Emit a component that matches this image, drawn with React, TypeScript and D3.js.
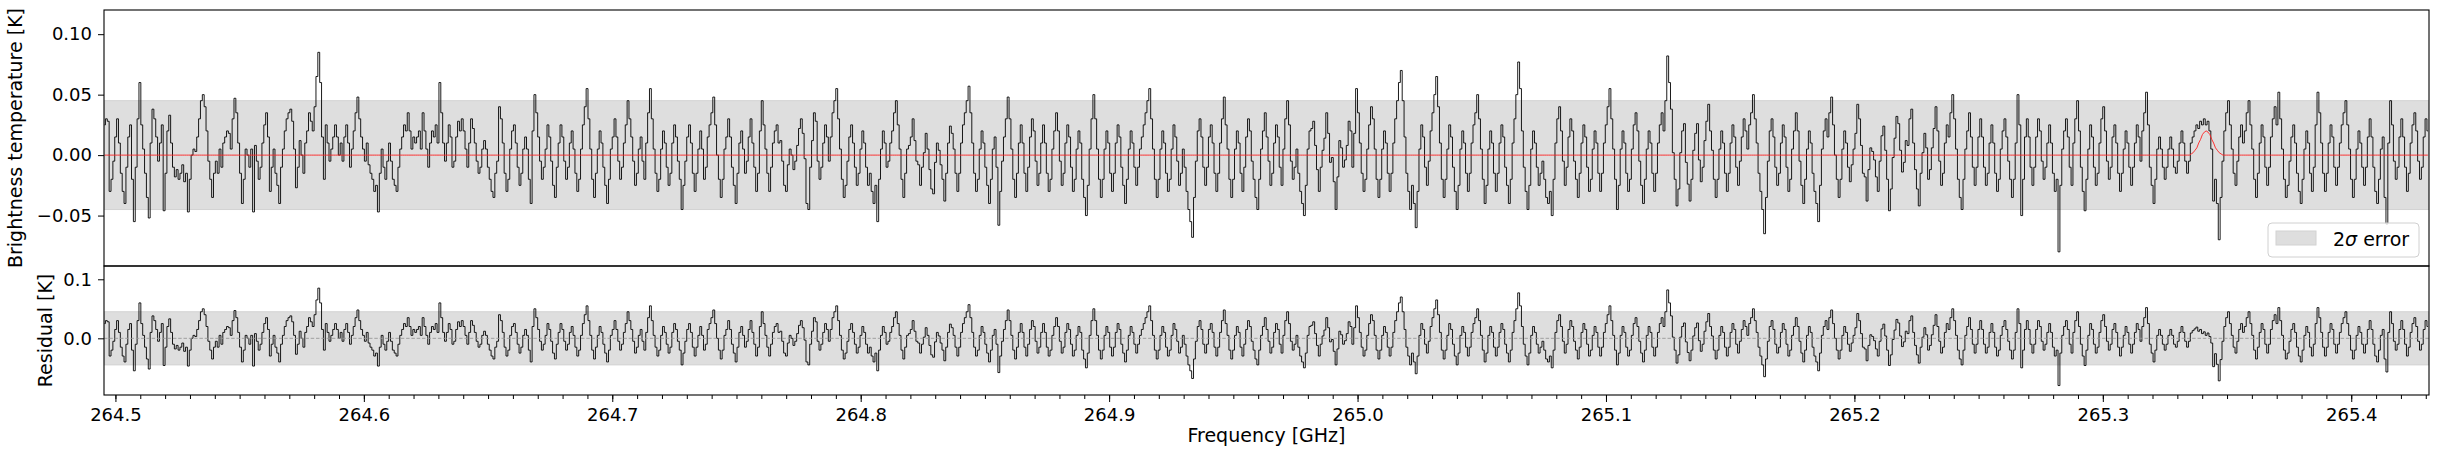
import * as d3 from 'd3';
import React, { FC, useEffect, useRef } from 'react';

// channel grid of the spectrum
const freqStart = 264.4956; // GHz
const channelWidth = 0.00075; // GHz

// brightness temperature per channel [mK]
const tb: number[] = [
	25, 30, 28, -30, -20, -5, 15, 30, 10, -15, -30, -40, -10, 15, 25, -20, -55, -10, 30, 60, 25, 5, -15, -35,
	-52, 10, 38, 30, 15, -5, 10, 25, -46, -15, 20, 33, 10, -10, -18, -12, -20, -15, -8, -22, -15, -47, -20, 0,
	5, 3, 15, 30, 45, 50, 40, 20, -5, -20, -35, -15, -5, -15, 5, -10, 10, 15, 20, 18, 5, 30, 47, 35,
	10, -15, -40, -20, 5, 0, -10, 5, -47, 8, -5, -20, -10, 10, 25, 35, 15, -30, -10, 5, -15, -25, -40, -10,
	5, 20, 30, 35, 38, 28, 5, -27, -10, 12, 0, -15, 10, 20, 35, 28, 20, 40, 65, 85, 60, 15, -20, 25,
	10, -5, 5, 15, 25, 15, 0, 10, -5, 15, 25, 10, -10, 5, 20, 35, 48, 30, 15, 5, -5, 10, -8, -15,
	-20, -30, -25, -47, -15, 5, -10, -20, -5, 10, -5, -20, -25, -30, -10, 5, 15, 25, 20, 35, 20, 5, 15, 10,
	15, 20, 5, 35, 20, 5, -10, 10, 20, 15, 25, 10, 60, 35, 10, -5, 10, 25, 15, -10, -5, 15, 28, 20,
	30, 20, 5, -10, 10, 30, 22, 10, -5, -15, -10, 5, 12, 5, -10, -20, -30, -35, -15, -5, 40, 30, 10, -15,
	-30, -20, 5, 20, 25, 10, -10, -25, -15, 5, 15, 5, -20, -40, 20, 50, 35, 15, -5, -20, -10, 5, 25, 15,
	-5, -25, -35, -10, 10, 25, 15, -5, -20, -10, 10, 20, 5, -15, -30, -20, 5, 25, 40, 55, 30, 5, -20, -35,
	-15, 5, 20, 10, -10, -25, -40, -20, 5, 15, 30, 15, -5, -20, -10, 10, 25, 45, 30, 15, -5, -25, -15, 5,
	15, -5, -20, 10, 35, 55, 30, 5, -15, -30, -20, 5, 20, 10, -10, -25, -15, 10, 25, 15, -5, -20, -45, -25,
	-5, 15, 25, 10, -15, -30, -15, 5, 20, 5, -20, -10, 15, 25, 35, 48, 25, 0, -20, -35, -20, 5, 15, 30,
	15, -10, -25, -40, -15, 10, 20, 5, -15, -5, 15, 30, 10, -10, -30, -15, 20, 45, 25, 5, -15, -30, -10, 10,
	20, 25, 10, 12, -5, -25, -30, -8, 5, 0, -12, -5, 8, 22, 30, 18, -3, -40, -45, -10, 12, 35, 28, -5,
	-20, -10, 10, 25, 15, -5, 15, 35, 45, 55, 30, 5, -20, -35, -25, -5, 15, 25, 10, -10, -25, -15, 5, 20,
	10, -10, -25, -15, -30, -40, -25, -55, -20, 5, 20, 10, -10, -5, 10, 20, 35, 45, 25, 5, -20, -35, -15, 5,
	8, 15, 30, 12, -5, -8, -25, -10, 2, 18, 5, -12, -28, -32, -6, 10, 4, -8, -20, -38, -15, 10, 24, 18,
	5, -15, -30, -15, 10, 25, 35, 45, 57, 35, 10, -15, -30, -20, 5, 20, 10, -10, -25, -40, -20, 5, 15, -10,
	-58, -30, -5, 15, 30, 48, 30, 5, -20, -35, -15, 10, 25, 10, -15, -30, -10, 15, 30, 20, -5, -25, -15, 10,
	25, 10, -15, -30, -20, 5, 20, 35, 20, -5, -25, -15, 10, 25, 15, -10, -30, -20, 5, 20, 10, -20, -35, -50,
	-25, 5, 30, 50, 30, 5, -20, -35, -20, 5, 20, 10, -15, -30, -15, 10, 25, 15, -10, -25, -40, -20, 5, 20,
	10, -10, -25, -10, 5, 15, 25, 35, 45, 55, 30, 5, -20, -35, -20, 5, 20, 10, -15, -30, -20, 5, 25, 15,
	-5, -25, -15, 5, -10, -30, -45, -55, -68, -35, -5, 20, 30, 15, -10, -25, -10, 15, 25, 10, -15, -30, -15, 10,
	30, 48, 25, 5, -20, -35, -20, 5, 20, 10, -15, -30, -10, 15, 30, 20, -5, -20, -35, -45, -20, 5, 20, 35,
	15, -5, -25, -15, 10, 25, 15, -10, -25, 5, 30, 45, 25, -5, -20, -10, 5, -15, -30, -40, -50, -25, 5, 20,
	22, 28, 8, -12, -30, -10, 4, 14, 35, 18, -6, -2, -22, -45, -18, 12, 6, -10, -4, 8, 28, 20, -10, 18,
	55, 35, 10, -15, -30, -20, 5, 25, 40, 30, 5, -20, -35, -20, 5, 20, 10, -15, -30, -15, 10, 30, 45, 60,
	70, 45, 15, -15, -30, -45, -25, -40, -60, -30, 5, 25, 15, -10, -25, -5, 20, 35, 50, 65, 40, 10, -20, -35,
	-20, 5, 25, 15, -10, -30, -45, -25, 5, 20, 10, -15, -30, -15, 10, 25, 35, 50, 30, 5, -20, -40, -25, 5,
	20, 10, -15, -30, -15, 10, 25, 15, -10, -25, -40, -20, 10, 30, 50, 77, 55, 20, -10, -30, -45, -25, 5, 20,
	10, -10, -25, -15, -5, -20, -35, -40, -30, -50, -20, 10, 30, 40, 20, -5, -25, -10, 15, 30, 20, -5, -20, -35,
	-15, 10, 25, 15, -10, -30, -20, 5, 20, 10, -15, -30, -15, 10, 25, 40, 55, 30, 5, -20, -45, -25, 5, 20,
	10, -15, -30, -20, 5, 25, 35, 20, -5, -25, -40, -20, 5, 20, 10, -15, -30, -15, 10, 25, 35, 20, 45, 82,
	60, 38, 2, -20, -42, -28, 2, 20, 26, -6, -24, -38, -20, 4, 18, 26, -4, -22, -10, 12, 28, 42, 20, 4,
	-20, -35, -20, 5, 20, 10, -15, -30, -15, 10, 25, 15, -10, -25, -5, 15, 30, 20, 5, 25, 35, 50, 30, 10,
	-15, -30, -45, -65, -35, -5, 20, 30, 15, -10, -25, -15, 10, 25, 15, -10, -30, -20, 5, 20, 35, 20, -5, -25,
	-40, -20, 5, 20, 10, -15, -30, -40, -55, -25, 5, 20, 30, 15, 35, 48, 25, 0, -20, -35, -20, 5, 20, 10,
	-10, -22, -8, 5, 18, 42, 30, 8, -15, -18, -38, -12, 6, 3, -4, -18, -30, -5, 16, 24, 4, -20, -46, -28,
	-2, 14, 32, 26, 4, -14, -6, 12, 8, 30, 38, 10, -12, -28, -42, -15, 2, 18, 6, -20, -12, 6, 22, 40,
	20, -5, -25, -15, 10, 25, 15, 35, 50, 30, 5, -20, -35, -45, -20, 5, 20, 35, 15, -10, -25, -10, 15, 30,
	15, -10, -25, -15, 10, 25, 10, -15, -30, -20, 5, 20, 30, 15, -5, -20, -35, -20, 10, 50, 25, -50, -20, 15,
	30, 15, -10, -25, -10, 15, 30, 20, -5, -20, -10, 10, 25, 10, -15, -30, -20, -80, -25, 5, 20, 30, 15, -10,
	-25, 10, 30, 45, 20, -10, -30, -46, -20, 5, 25, 15, -10, -25, -15, 10, 30, 40, 20, -5, -20, -10, 15, 25,
	10, -15, -30, -15, 5, 20, 10, -10, -25, -10, 10, 25, 15, -5, 20, 35, 52, 25, -10, -25, -40, -20, 5, 15,
	5, -10, -20, -10, 5, 15, 5, -10, -15, -5, 10, 20, 10, -5, -15, -5, 10, 15, 20, 25, 22, 28, 25, 30,
	25, 28, 20, 5, -38, -20, -40, -70, -35, -5, 20, 35, 45, 25, 5, -15, -25, -5, 15, 25, 10, 20, 35, 45,
	25, 5, -20, -35, -15, 10, 25, 15, -10, -25, -10, 15, 30, 40, 25, 52, 30, 5, -20, -35, -25, -5, 15, 25,
	10, -15, -30, -40, -20, 5, 20, 10, -15, -30, -10, 25, 52, 35, 10, -15, -30, -15, 10, 25, 15, -10, -25, -10,
	10, 25, 35, 45, 25, 5, -20, -35, -20, 5, 20, 10, -10, -25, -10, 15, 30, 15, -10, -30, -40, -20, 5, 15,
	-35, -57, 10, 45, 25, -5, -20, -10, 15, 30, 15, -10, -30, -15, 10, 25, 35, 20, -5, -20, -10, 15, 30, 20,
];

// fitted line model [mK], only the channels where it is non-zero
const modelStartChannel = 1120;
const modelValues = [1, 2, 4, 6, 10, 13, 17, 19, 20, 19, 17, 13, 10, 6, 4, 2, 1];

const errorBand = 0.045; // 2 sigma [K]
const topTicks = [-0.05, 0, 0.05, 0.1];
const resTicks = [0, 0.1];
const freqTicks = [264.5, 264.6, 264.7, 264.8, 264.9, 265.0, 265.1, 265.2, 265.3, 265.4];
const freqMinorTicks = d3.range(264.5, 265.435, 0.01);

const W = 2438;
const H = 458;
const FONT = "'DejaVu Sans', sans-serif";
const FS = 18; // tick labels
const LFS = 19; // axis labels

const App: FC = () => {
	const ref = useRef<SVGSVGElement>(null);

	useEffect(() => {
		const svg = d3.select(ref.current);
		svg.selectAll('*').remove();

		const left = 104;
		const right = 2429;
		const top = { y0: 10, y1: 266 };
		const res = { y0: 266, y1: 395 };

		const x = d3.scaleLinear().domain([264.4954, 265.4313]).range([left, right]);
		const yTop = d3.scaleLinear().domain([-0.0917, 0.12]).range([top.y1, top.y0]);
		const yRes = d3.scaleLinear().domain([-0.096, 0.1225]).range([res.y1, res.y0]);

		const spec = tb.map((v, i) => {
			const j = i - modelStartChannel;
			const m = j >= 0 && j < modelValues.length ? modelValues[j] : 0;
			return { f: freqStart + i * channelWidth, t: v / 1000, m: m / 1000, r: (v - m) / 1000 };
		});

		const defs = svg.append('defs');
		defs.append('clipPath').attr('id', 'clipTop').append('rect')
			.attr('x', left).attr('y', top.y0).attr('width', right - left).attr('height', top.y1 - top.y0);
		defs.append('clipPath').attr('id', 'clipRes').append('rect')
			.attr('x', left).attr('y', res.y0).attr('width', right - left).attr('height', res.y1 - res.y0);

		const panel = (clip: string, y: any, key: 't' | 'r') => {
			const g = svg.append('g').attr('clip-path', `url(#${clip})`);
			g.append('rect')
				.attr('x', left).attr('width', right - left)
				.attr('y', y(errorBand)).attr('height', y(-errorBand) - y(errorBand))
				.attr('fill', '#dedede').attr('stroke', '#d2d2d2').attr('stroke-width', 1);
			const line = d3.line<any>().x(d => x(d.f)).y(d => y(d[key])).curve(d3.curveStep);
			g.append('path').datum(spec).attr('d', line)
				.attr('fill', 'none').attr('stroke', '#000').attr('stroke-width', 0.9);
			return g;
		};

		const gTop = panel('clipTop', yTop, 't');
		gTop.append('path').datum(spec)
			.attr('d', d3.line<any>().x(d => x(d.f)).y(d => yTop(d.m)))
			.attr('fill', 'none').attr('stroke', '#ff2020').attr('stroke-width', 0.9);

		const gRes = panel('clipRes', yRes, 'r');
		gRes.append('line')
			.attr('x1', left).attr('x2', right).attr('y1', yRes(0)).attr('y2', yRes(0))
			.attr('stroke', '#999').attr('stroke-width', 0.9).attr('stroke-dasharray', '3.5,1.8');

		const style = (g: any) => {
			g.select('.domain').remove();
			g.selectAll('line').attr('stroke', '#000').attr('stroke-width', 1);
			g.selectAll('text').attr('font-family', FONT).attr('font-size', FS).attr('fill', '#000');
		};

		svg.append('g').attr('transform', `translate(${left},0)`)
			.call(d3.axisLeft(yTop).tickValues(topTicks).tickFormat(d3.format('.2f')).tickSize(6).tickPadding(6))
			.call(style);
		svg.append('g').attr('transform', `translate(${left},0)`)
			.call(d3.axisLeft(yRes).tickValues(resTicks).tickFormat(d3.format('.1f')).tickSize(6).tickPadding(6))
			.call(style);
		svg.append('g').attr('transform', `translate(0,${res.y1})`)
			.call(d3.axisBottom(x).tickValues(freqMinorTicks).tickFormat(() => '').tickSize(4))
			.call(style);
		svg.append('g').attr('transform', `translate(0,${res.y1})`)
			.call(d3.axisBottom(x).tickValues(freqTicks).tickFormat(d3.format('.1f')).tickSize(7).tickPadding(6))
			.call(style);

		// spines
		[top, res].forEach(p => {
			svg.append('rect')
				.attr('x', left).attr('y', p.y0).attr('width', right - left).attr('height', p.y1 - p.y0)
				.attr('fill', 'none').attr('stroke', '#000').attr('stroke-width', 1.1);
		});

		svg.append('text')
			.attr('transform', `translate(22,${(top.y0 + top.y1) / 2}) rotate(-90)`)
			.attr('text-anchor', 'middle').attr('font-family', FONT).attr('font-size', LFS)
			.text('Brightness temperature [K]');
		svg.append('text')
			.attr('transform', `translate(52,${(res.y0 + res.y1) / 2}) rotate(-90)`)
			.attr('text-anchor', 'middle').attr('font-family', FONT).attr('font-size', LFS)
			.text('Residual [K]');
		svg.append('text')
			.attr('x', (left + right) / 2).attr('y', 442)
			.attr('text-anchor', 'middle').attr('font-family', FONT).attr('font-size', LFS)
			.text('Frequency [GHz]');

		// legend
		const lg = svg.append('g');
		lg.append('rect')
			.attr('x', 2268).attr('y', 223).attr('width', 151).attr('height', 34).attr('rx', 4)
			.attr('fill', 'rgba(255,255,255,0.8)').attr('stroke', '#d0d0d0').attr('stroke-width', 1);
		lg.append('rect')
			.attr('x', 2276).attr('y', 231).attr('width', 40).attr('height', 14)
			.attr('fill', '#dedede').attr('stroke', '#d2d2d2').attr('stroke-width', 1);
		const lt = lg.append('text')
			.attr('x', 2333).attr('y', 246).attr('font-family', FONT).attr('font-size', LFS);
		lt.append('tspan').text('2');
		lt.append('tspan').attr('font-style', 'italic').text('σ');
		lt.append('tspan').text(' error');
	}, []);

	return (
		<svg
			ref={ref}
			width={W}
			height={H}
			style={{ position: 'absolute', left: 0, top: 0, background: '#fff' }}
		/>
	);
};

export default App;
